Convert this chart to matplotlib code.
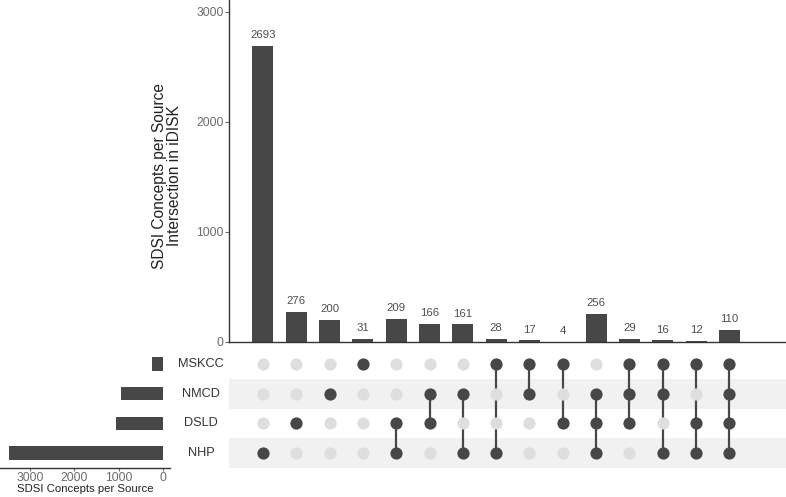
import matplotlib
matplotlib.use("Agg")
import matplotlib.pyplot as plt
import matplotlib.transforms as mtransforms

plt.rcParams['font.family'] = ['Liberation Sans', 'DejaVu Sans']

# ---- data ----
sets = ["MSKCC", "NMCD", "DSLD", "NHP"]
set_sizes = [247, 955, 1062, 3485]
intersection_counts = [2693, 276, 200, 31, 209, 166, 161, 28, 17, 4, 256, 29, 16, 12, 110]
intersection_members = [
    ["NHP"],
    ["DSLD"],
    ["NMCD"],
    ["MSKCC"],
    ["DSLD", "NHP"],
    ["NMCD", "DSLD"],
    ["NMCD", "NHP"],
    ["MSKCC", "NHP"],
    ["MSKCC", "NMCD"],
    ["MSKCC", "DSLD"],
    ["NMCD", "DSLD", "NHP"],
    ["MSKCC", "NMCD", "DSLD"],
    ["MSKCC", "NMCD", "NHP"],
    ["MSKCC", "DSLD", "NHP"],
    ["MSKCC", "NMCD", "DSLD", "NHP"],
]
main_yticks = [0, 1000, 2000, 3000]
left_xticks = [3000, 2000, 1000, 0]

# ---- style ----
bar_color = "#474747"
dot_on = "#474747"
dot_off = "#dedede"
band_color = "#f1f1f1"
spine_color = "#333333"
tick_color = "#6b6b6b"
text_color = "#333333"

W, H = 786, 497
fig = plt.figure(figsize=(W / 100, H / 100), dpi=100)

def rect(x0, y0, x1, y1):
    return [x0 / W, 1 - y1 / H, (x1 - x0) / W, (y1 - y0) / H]

ax_main = fig.add_axes(rect(229, 0, 786, 342))
ax_mat = fig.add_axes(rect(229, 349, 786, 468), sharex=ax_main)
ax_left = fig.add_axes(rect(0, 349, 170, 468), sharey=ax_mat)

n = len(intersection_counts)
xs = list(range(n))
row_y = {s: len(sets) - 1 - i for i, s in enumerate(sets)}  # MSKCC top

# ---- main bars ----
bars = ax_main.bar(xs, intersection_counts, width=0.63, color=bar_color)
ax_main.bar_label(bars, labels=[str(v) for v in intersection_counts],
                  padding=4, fontsize=8.2, color="#4d4d4d")
ax_main.set_xlim(-1.02, 15.7)
ax_main.set_ylim(0, 3109)
ax_main.set_yticks(main_yticks)
ax_main.tick_params(axis="y", length=3, color=tick_color, labelcolor=tick_color,
                    labelsize=8.7, width=0.8, pad=1)
ax_main.tick_params(axis="x", bottom=False, labelbottom=False)
for s in ["top", "right"]:
    ax_main.spines[s].set_visible(False)
for s in ["left", "bottom"]:
    ax_main.spines[s].set_color(spine_color)
    ax_main.spines[s].set_linewidth(1.0)
fig.text(167 / W, 1 - 176 / H, "SDSI Concepts per Source\nIntersection in iDISK",
         rotation=90, ha="center", va="center", fontsize=11.2, color="#222222",
         linespacing=0.95)

# ---- matrix ----
ax_mat.set_ylim(-0.5, len(sets) - 0.5)
for s in sets:
    if s in ("NMCD", "NHP"):
        ax_mat.axhspan(row_y[s] - 0.5, row_y[s] + 0.5, color=band_color, lw=0, zorder=0)
for i, members in enumerate(intersection_members):
    for s in sets:
        active = s in members
        ax_mat.plot(i, row_y[s], "o", ms=8.8, color=dot_on if active else dot_off,
                    mec="none", zorder=3)
    ys = [row_y[s] for s in members]
    if len(ys) > 1:
        ax_mat.plot([i, i], [min(ys), max(ys)], color=dot_on, lw=1.6, zorder=2)
ax_mat.axis("off")

# ---- left set-size bars ----
ax_left.barh([row_y[s] for s in sets], set_sizes, height=0.45, color=bar_color)
ax_left.set_xlim(3677, -158)
ax_left.set_xticks(left_xticks)
ax_left.tick_params(axis="x", length=2.5, color=tick_color, labelcolor=tick_color,
                    labelsize=8.7, width=0.8, pad=0.5)
ax_left.tick_params(axis="y", left=False, labelleft=False)
for s in ["top", "right", "left"]:
    ax_left.spines[s].set_visible(False)
ax_left.spines["bottom"].set_color(spine_color)
ax_left.spines["bottom"].set_linewidth(1.0)
ax_left.set_xlabel("SDSI Concepts per Source", fontsize=8.2, color="#222222", labelpad=0)

trans = mtransforms.blended_transform_factory(fig.transFigure, ax_mat.transData)
for s in sets:
    fig.text(201 / W, row_y[s], s, transform=trans, ha="center", va="center",
             fontsize=9.2, color=text_color)

fig.savefig("out.png", dpi=100)
